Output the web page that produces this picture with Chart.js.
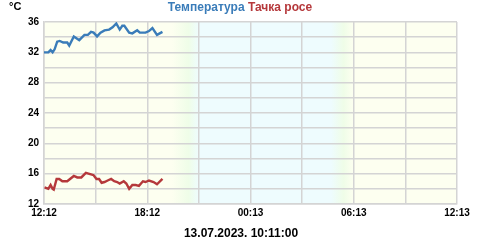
<!DOCTYPE html>
<html>
<head>
<meta charset="utf-8">
<script src="https://cdn.jsdelivr.net/npm/chart.js@4.4.0/dist/chart.umd.min.js"></script>
<style>
html,body{margin:0;padding:0;background:#fff;}
#wrap{position:relative;width:480px;height:240px;}
</style>
</head>
<body>
<div id="wrap"><canvas id="c" width="480" height="240"></canvas></div>
<script>
// ---- data (minutes since 12:12) ----
const tempTimes = [0,15,23,30,37,46,55,67,81,88,104,123,141,153,164,173,185,197,211,227,239,252,264,273,280,297,308,325,334,354,366,378,394,413];
const tempValues = [32.0,32.0,32.3,32.0,32.4,33.4,33.5,33.3,33.3,32.9,34.1,33.6,34.3,34.3,34.7,34.6,34.1,34.6,34.9,35.0,35.3,35.8,35.0,35.5,35.5,34.6,34.5,34.9,34.6,34.6,34.8,35.2,34.3,34.7];
const dewTimes = [2,15,23,30,34,44,53,64,81,104,116,130,146,155,164,173,183,192,201,211,222,234,245,255,264,278,287,297,308,320,331,345,354,366,382,394,413];
const dewValues = [14.2,14.0,14.5,14.0,13.9,15.3,15.3,15.0,15.0,15.7,15.5,15.5,16.1,16.0,15.9,15.8,15.3,15.3,14.8,14.9,15.1,15.3,15.0,14.9,14.7,15.0,14.7,14.0,14.5,14.5,14.4,15.0,14.9,15.1,14.9,14.6,15.3];
const xTickValues = [0,180,360,540,720,900,1080,1260,1440];
const xTickLabels = ['12:12','','18:12','','00:13','','06:13','','12:13'];
const seriesNames = ['Температура','Тачка росе'];
const unitLabel = '°C';
const stampLabel = '13.07.2023. 10:11:00';

const BLUE = '#3a7cb9';
const RED = '#b5383b';
const GRID = '#d4d4d4';

const bgPlugin = {
  id: 'bg',
  beforeDraw(chart) {
    const {ctx, chartArea: a} = chart;
    const g = ctx.createLinearGradient(a.left, 0, a.right, 0);
    g.addColorStop(0, '#fdfff0');
    g.addColorStop(0.31, '#fdfff0');
    g.addColorStop(0.35, '#effde8');
    g.addColorStop(0.375, '#eefcfe');
    g.addColorStop(0.695, '#eefcfe');
    g.addColorStop(0.725, '#effde8');
    g.addColorStop(0.75, '#fdfff0');
    g.addColorStop(1, '#fdfff0');
    ctx.save();
    ctx.fillStyle = g;
    ctx.fillRect(a.left, a.top, a.right - a.left, a.bottom - a.top);
    ctx.restore();
  }
};

const textPlugin = {
  id: 'texts',
  afterDraw(chart) {
    const ctx = chart.ctx;
    ctx.save();
    ctx.textBaseline = 'middle';
    ctx.font = 'bold 12px "Liberation Sans", Arial, sans-serif';
    const w1 = ctx.measureText(seriesNames[0]).width;
    const sp = ctx.measureText(' ').width;
    const w2 = ctx.measureText(seriesNames[1]).width;
    let x = 240 - (w1 + sp + w2) / 2;
    ctx.textAlign = 'left';
    ctx.fillStyle = BLUE;
    ctx.fillText(seriesNames[0], x, 8);
    ctx.fillStyle = RED;
    ctx.fillText(seriesNames[1], x + w1 + sp, 8);
    ctx.fillStyle = '#000';
    ctx.font = 'bold 11px "Liberation Sans", Arial, sans-serif';
    ctx.fillText(unitLabel, 9, 7);
    ctx.textAlign = 'center';
    ctx.font = 'bold 12px "Liberation Sans", Arial, sans-serif';
    ctx.fillText(stampLabel, 241, 234);
    ctx.restore();
  }
};

new Chart(document.getElementById('c'), {
  type: 'line',
  data: {
    datasets: [
      {label: seriesNames[0], data: tempTimes.map((t,i)=>({x:t, y:tempValues[i]})), borderColor: BLUE, borderWidth: 2.4, pointRadius: 0, tension: 0, fill: false},
      {label: seriesNames[1], data: dewTimes.map((t,i)=>({x:t, y:dewValues[i]})), borderColor: RED, borderWidth: 2.4, pointRadius: 0, tension: 0, fill: false}
    ]
  },
  options: {
    responsive: false,
    animation: false,
    devicePixelRatio: 1,
    layout: {padding: {left: 0, right: 23, top: 22, bottom: 0}},
    plugins: {legend: {display: false}, title: {display: false}, tooltip: {enabled: false}},
    scales: {
      x: {
        type: 'linear', min: 0, max: 1440,
        afterBuildTicks(s) { s.ticks = xTickValues.map(v => ({value: v})); },
        afterFit(s) { s.height = 36; },
        grid: {color: GRID, lineWidth: 1.5, drawTicks: false},
        border: {color: GRID, width: 1.5},
        ticks: {
          autoSkip: false, maxRotation: 0, padding: 3, color: '#000',
          font: {family: '"Liberation Sans", Arial, sans-serif', size: 10, weight: 'bold'},
          callback: (v, i) => xTickLabels[i]
        }
      },
      y: {
        min: 12, max: 36,
        afterFit(s) { s.width = 44; },
        grid: {color: GRID, lineWidth: 1.5, drawTicks: false},
        border: {color: GRID, width: 1.5},
        ticks: {
          stepSize: 2, padding: 5, color: '#000',
          font: {family: '"Liberation Sans", Arial, sans-serif', size: 10, weight: 'bold'},
          callback: v => (v % 4 === 0 ? String(v) : '')
        }
      }
    }
  },
  plugins: [bgPlugin, textPlugin]
});
</script>
</body>
</html>
